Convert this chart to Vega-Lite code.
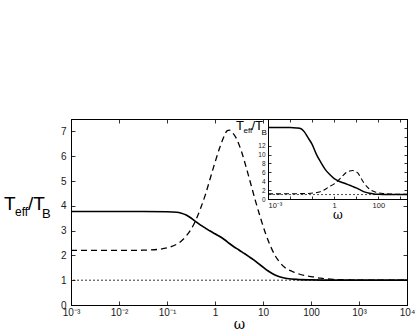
{
  "$schema": "https://vega.github.io/schema/vega-lite/v6.json",
  "background": "white",
  "padding": {"left": 3, "top": 118, "right": 0, "bottom": 0},
  "autosize": {"type": "pad"},
  "spacing": -139,
  "align": "none",
  "bounds": "flush",
  "config": {
    "view": {"stroke": "black", "strokeWidth": 1},
    "axis": {"domainColor": "black", "tickColor": "black", "labelColor": "#1a1a1a", "labelFont": "Liberation Sans", "grid": false, "domainWidth": 1, "tickWidth": 0.8}
  },
  "datasets": {
    "mainSolid": [
      {"w": 0.001, "t": 3.77}, {"w": 0.01, "t": 3.77}, {"w": 0.0316, "t": 3.77}, {"w": 0.1, "t": 3.76},
      {"w": 0.1585, "t": 3.74}, {"w": 0.1995, "t": 3.7}, {"w": 0.2512, "t": 3.63}, {"w": 0.3162, "t": 3.51},
      {"w": 0.3981, "t": 3.36}, {"w": 0.5012, "t": 3.22}, {"w": 0.631, "t": 3.1}, {"w": 0.7943, "t": 2.98},
      {"w": 1, "t": 2.87}, {"w": 1.259, "t": 2.76}, {"w": 1.585, "t": 2.63}, {"w": 1.995, "t": 2.48},
      {"w": 2.512, "t": 2.34}, {"w": 3.162, "t": 2.22}, {"w": 3.981, "t": 2.09}, {"w": 5.012, "t": 1.96},
      {"w": 6.31, "t": 1.83}, {"w": 7.943, "t": 1.68}, {"w": 10, "t": 1.53}, {"w": 12.59, "t": 1.38},
      {"w": 15.85, "t": 1.26}, {"w": 19.95, "t": 1.17}, {"w": 25.12, "t": 1.11}, {"w": 31.62, "t": 1.07},
      {"w": 50.12, "t": 1.03}, {"w": 100, "t": 1.01}, {"w": 316.2, "t": 1.0}, {"w": 1000, "t": 1.0}, {"w": 10000, "t": 1.0}
    ],
    "mainDashed": [
      {"w": 0.001, "t": 2.2}, {"w": 0.01, "t": 2.2}, {"w": 0.0316, "t": 2.21}, {"w": 0.0631, "t": 2.24},
      {"w": 0.1, "t": 2.3}, {"w": 0.1259, "t": 2.36}, {"w": 0.1585, "t": 2.45}, {"w": 0.1995, "t": 2.58},
      {"w": 0.2512, "t": 2.78}, {"w": 0.3162, "t": 3.05}, {"w": 0.3981, "t": 3.42}, {"w": 0.5012, "t": 3.9},
      {"w": 0.631, "t": 4.45}, {"w": 0.7943, "t": 5.1}, {"w": 1, "t": 5.75}, {"w": 1.259, "t": 6.35},
      {"w": 1.585, "t": 6.85}, {"w": 1.778, "t": 7.02}, {"w": 1.995, "t": 7.05}, {"w": 2.239, "t": 6.98},
      {"w": 2.818, "t": 6.7}, {"w": 3.548, "t": 6.2}, {"w": 4.467, "t": 5.55}, {"w": 5.623, "t": 4.85},
      {"w": 7.079, "t": 4.15}, {"w": 8.913, "t": 3.5}, {"w": 11.22, "t": 2.9}, {"w": 14.13, "t": 2.4},
      {"w": 17.78, "t": 2.0}, {"w": 22.39, "t": 1.72}, {"w": 28.18, "t": 1.52}, {"w": 39.81, "t": 1.36},
      {"w": 56.23, "t": 1.25}, {"w": 79.43, "t": 1.18}, {"w": 112.2, "t": 1.13}, {"w": 158.5, "t": 1.08},
      {"w": 251.2, "t": 1.04}, {"w": 398.1, "t": 1.02}, {"w": 1000, "t": 1.0}, {"w": 10000, "t": 1.0}
    ],
    "insetSolid": [
      {"w": 0.001, "t": 16.1}, {"w": 0.01, "t": 16.1}, {"w": 0.01995, "t": 16.0}, {"w": 0.03162, "t": 15.8},
      {"w": 0.04467, "t": 15.1}, {"w": 0.0631, "t": 13.9}, {"w": 0.1, "t": 12.3}, {"w": 0.1585, "t": 10.0},
      {"w": 0.2512, "t": 8.2}, {"w": 0.3981, "t": 6.6}, {"w": 0.631, "t": 5.5}, {"w": 1, "t": 4.6},
      {"w": 1.585, "t": 4.05}, {"w": 2.512, "t": 3.65}, {"w": 3.981, "t": 3.3}, {"w": 6.31, "t": 2.9},
      {"w": 10, "t": 2.5}, {"w": 15.85, "t": 2.0}, {"w": 25.12, "t": 1.55}, {"w": 39.81, "t": 1.3},
      {"w": 63.1, "t": 1.15}, {"w": 100, "t": 1.08}, {"w": 199.5, "t": 1.03}, {"w": 501.2, "t": 1.0}, {"w": 1995, "t": 1.0}
    ],
    "insetDashed": [
      {"w": 0.001, "t": 1.15}, {"w": 0.03162, "t": 1.2}, {"w": 0.0891, "t": 1.3}, {"w": 0.1862, "t": 1.5},
      {"w": 0.3162, "t": 1.9}, {"w": 0.5248, "t": 2.6}, {"w": 1, "t": 3.4}, {"w": 1.479, "t": 4.1},
      {"w": 2.239, "t": 5.0}, {"w": 3.388, "t": 5.9}, {"w": 5.012, "t": 6.3}, {"w": 7.079, "t": 6.4},
      {"w": 10, "t": 6.1}, {"w": 12.02, "t": 5.8}, {"w": 15.85, "t": 4.8}, {"w": 22.39, "t": 3.6},
      {"w": 38.02, "t": 2.3}, {"w": 79.43, "t": 1.5}, {"w": 158.5, "t": 1.25}, {"w": 380.2, "t": 1.12},
      {"w": 1000, "t": 1.05}, {"w": 1995, "t": 1.03}
    ]
  },
  "hconcat": [
    {
      "width": 336,
      "height": 186,
      "layer": [
        {
          "data": {"name": "mainSolid"},
          "mark": {"type": "line", "color": "black", "strokeWidth": 1.7, "interpolate": "monotone"},
          "encoding": {
            "x": {"field": "w", "type": "quantitative", "scale": {"type": "log", "domain": [0.001, 10000]},
              "axis": {"orient": "bottom", "values": [0.001, 0.01, 0.1, 1, 10, 100, 1000, 10000],
                "labelExpr": "datum.value < 0.005 ? '10⁻³' : datum.value < 0.05 ? '10⁻²' : datum.value < 0.5 ? '10⁻¹' : datum.value < 5 ? '1' : datum.value < 50 ? '10' : datum.value < 500 ? '100' : datum.value < 5000 ? '10³' : '10⁴'",
                "labelFlush": false, "labelOverlap": false, "labelFontSize": 10, "labelPadding": 6, "tickSize": -4,
                "title": "ω", "titleFont": "DejaVu Serif", "titleFontSize": 14, "titleFontWeight": "normal", "titleColor": "black", "titlePadding": 0}},
            "y": {"field": "t", "type": "quantitative", "scale": {"domain": [0, 7.5]},
              "axis": {"orient": "left", "values": [0, 1, 2, 3, 4, 5, 6, 7], "labelFontSize": 10, "labelPadding": 9, "tickSize": -4, "title": null}}
          }
        },
        {
          "data": {"name": "mainDashed"},
          "mark": {"type": "line", "color": "black", "strokeWidth": 1.3, "strokeDash": [6, 4], "interpolate": "monotone"},
          "encoding": {
            "x": {"field": "w", "type": "quantitative", "scale": {"type": "log", "domain": [0.001, 10000]},
              "axis": {"orient": "top", "values": [0.001, 0.01, 0.1, 1, 10, 100, 1000, 10000], "labels": false, "tickSize": -4, "title": null}},
            "y": {"field": "t", "type": "quantitative", "scale": {"domain": [0, 7.5]},
              "axis": {"orient": "right", "values": [0, 1, 2, 3, 4, 5, 6, 7], "labels": false, "tickSize": -4, "title": null}}
          }
        },
        {
          "data": {"values": [{}]},
          "mark": {"type": "rule", "color": "black", "strokeWidth": 0.8, "strokeDash": [2, 2]},
          "encoding": {"y": {"datum": 1, "type": "quantitative", "scale": {"domain": [0, 7.5]}, "axis": null}}
        },
        {
          "data": {"values": [{}]},
          "mark": {"type": "text", "text": "T", "font": "Liberation Sans", "fontSize": 19, "align": "left", "baseline": "alphabetic", "dx": -67, "color": "black"},
          "encoding": {"x": {"datum": 0.001, "type": "quantitative", "scale": {"type": "log", "domain": [0.001, 10000]}, "axis": null},
            "y": {"datum": 3.85, "type": "quantitative", "scale": {"domain": [0, 7.5]}, "axis": null}}
        },
        {
          "data": {"values": [{}]},
          "mark": {"type": "text", "text": "eff", "font": "Liberation Sans", "fontSize": 12, "align": "left", "baseline": "alphabetic", "dx": -56, "dy": 6, "color": "black"},
          "encoding": {"x": {"datum": 0.001, "type": "quantitative", "scale": {"type": "log", "domain": [0.001, 10000]}, "axis": null},
            "y": {"datum": 3.85, "type": "quantitative", "scale": {"domain": [0, 7.5]}, "axis": null}}
        },
        {
          "data": {"values": [{}]},
          "mark": {"type": "text", "text": "/T", "font": "Liberation Sans", "fontSize": 19, "align": "left", "baseline": "alphabetic", "dx": -43, "color": "black"},
          "encoding": {"x": {"datum": 0.001, "type": "quantitative", "scale": {"type": "log", "domain": [0.001, 10000]}, "axis": null},
            "y": {"datum": 3.85, "type": "quantitative", "scale": {"domain": [0, 7.5]}, "axis": null}}
        },
        {
          "data": {"values": [{}]},
          "mark": {"type": "text", "text": "B", "font": "Liberation Sans", "fontSize": 13, "align": "left", "baseline": "alphabetic", "dx": -29, "dy": 8, "color": "black"},
          "encoding": {"x": {"datum": 0.001, "type": "quantitative", "scale": {"type": "log", "domain": [0.001, 10000]}, "axis": null},
            "y": {"datum": 3.85, "type": "quantitative", "scale": {"domain": [0, 7.5]}, "axis": null}}
        }
      ],
      "resolve": {"axis": {"x": "independent", "y": "independent"}}
    },
    {
      "width": 139,
      "height": 80,
      "view": {"fill": "white", "stroke": "black"},
      "layer": [
        {
          "data": {"name": "insetSolid"},
          "mark": {"type": "line", "color": "black", "strokeWidth": 1.5, "interpolate": "monotone"},
          "encoding": {
            "x": {"field": "w", "type": "quantitative", "scale": {"type": "log", "domain": [0.001, 2000]},
              "axis": {"orient": "bottom", "values": [0.001, 0.01, 0.1, 1, 10, 100, 1000],
                "labelExpr": "datum.value < 0.005 ? '10⁻³' : (datum.value > 0.5 && datum.value < 5) ? '1' : (datum.value > 50 && datum.value < 500) ? '100' : ''",
                "labelFlush": true, "labelOverlap": false, "labelFontSize": 7.5, "labelPadding": 5, "tickSize": -3,
                "title": "ω", "titleFont": "DejaVu Serif", "titleFontSize": 12, "titleFontWeight": "normal", "titleColor": "black", "titlePadding": 1}},
            "y": {"field": "t", "type": "quantitative", "scale": {"domain": [0, 18]},
              "axis": {"orient": "left", "values": [0, 2, 4, 6, 8, 10, 12], "labelFontSize": 6.5, "labelPadding": 6, "tickSize": -3, "title": null}}
          }
        },
        {
          "data": {"name": "insetDashed"},
          "mark": {"type": "line", "color": "black", "strokeWidth": 1.1, "strokeDash": [5, 3], "interpolate": "monotone"},
          "encoding": {
            "x": {"field": "w", "type": "quantitative", "scale": {"type": "log", "domain": [0.001, 2000]},
              "axis": {"orient": "top", "values": [0.001, 0.01, 0.1, 1, 10, 100, 1000], "labels": false, "tickSize": -3, "title": null}},
            "y": {"field": "t", "type": "quantitative", "scale": {"domain": [0, 18]},
              "axis": {"orient": "right", "values": [0, 2, 4, 6, 8, 10, 12, 14, 16], "labels": false, "tickSize": -3, "title": null}}
          }
        },
        {
          "data": {"values": [{}]},
          "mark": {"type": "rule", "color": "black", "strokeWidth": 0.7, "strokeDash": [2, 2]},
          "encoding": {"y": {"datum": 1, "type": "quantitative", "scale": {"domain": [0, 18]}, "axis": null}}
        },
        {
          "data": {"values": [{}]},
          "mark": {"type": "text", "text": "T", "font": "Liberation Sans", "fontSize": 13, "align": "left", "baseline": "alphabetic", "dx": -32, "color": "black"},
          "encoding": {"x": {"datum": 0.001, "type": "quantitative", "scale": {"type": "log", "domain": [0.001, 2000]}, "axis": null},
            "y": {"datum": 15.45, "type": "quantitative", "scale": {"domain": [0, 18]}, "axis": null}}
        },
        {
          "data": {"values": [{}]},
          "mark": {"type": "text", "text": "eff", "font": "Liberation Sans", "fontSize": 8, "align": "left", "baseline": "alphabetic", "dx": -24.5, "dy": 3, "color": "black"},
          "encoding": {"x": {"datum": 0.001, "type": "quantitative", "scale": {"type": "log", "domain": [0.001, 2000]}, "axis": null},
            "y": {"datum": 15.45, "type": "quantitative", "scale": {"domain": [0, 18]}, "axis": null}}
        },
        {
          "data": {"values": [{}]},
          "mark": {"type": "text", "text": "/T", "font": "Liberation Sans", "fontSize": 13, "align": "left", "baseline": "alphabetic", "dx": -16.5, "color": "black"},
          "encoding": {"x": {"datum": 0.001, "type": "quantitative", "scale": {"type": "log", "domain": [0.001, 2000]}, "axis": null},
            "y": {"datum": 15.45, "type": "quantitative", "scale": {"domain": [0, 18]}, "axis": null}}
        },
        {
          "data": {"values": [{}]},
          "mark": {"type": "text", "text": "B", "font": "Liberation Sans", "fontSize": 8, "align": "left", "baseline": "alphabetic", "dx": -6.5, "dy": 5, "color": "black"},
          "encoding": {"x": {"datum": 0.001, "type": "quantitative", "scale": {"type": "log", "domain": [0.001, 2000]}, "axis": null},
            "y": {"datum": 15.45, "type": "quantitative", "scale": {"domain": [0, 18]}, "axis": null}}
        }
      ],
      "resolve": {"axis": {"x": "independent", "y": "independent"}}
    }
  ]
}
